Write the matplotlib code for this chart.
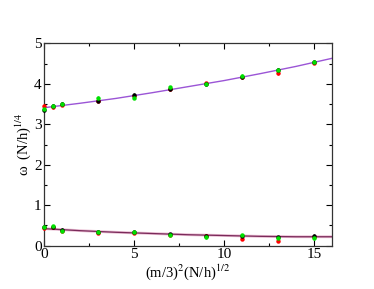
import matplotlib
matplotlib.use("Agg")
import matplotlib.pyplot as plt
from matplotlib.ticker import MultipleLocator

plt.rcParams['font.family'] = ['Liberation Serif', 'DejaVu Serif']
plt.rcParams['mathtext.fontset'] = 'stix'

x = [0, 0.5, 1, 3, 5, 7, 9, 11, 13, 15]

up_black = [3.35, 3.45, 3.51, 3.58, 3.73, 3.88, 3.99, 4.18, 4.35, 4.53]
up_red   = [3.45, 3.42, 3.48, 3.58, 3.69, 3.87, 4.01, 4.16, 4.27, 4.52]
up_green = [3.38, 3.46, 3.50, 3.65, 3.66, 3.91, 4.00, 4.20, 4.35, 4.55]

lo_black = [0.45, 0.46, 0.39, 0.34, 0.33, 0.28, 0.24, 0.23, 0.21, 0.24]
lo_red   = [0.43, 0.47, 0.37, 0.32, 0.32, 0.27, 0.23, 0.17, 0.12, 0.22]
lo_green = [0.47, 0.48, 0.37, 0.34, 0.34, 0.27, 0.21, 0.26, 0.19, 0.18]

err = 0.04

fit_x  = [0, 2, 4, 6, 8, 10, 12, 14, 16]
fit_up = [3.41, 3.52, 3.64, 3.78, 3.93, 4.08, 4.25, 4.43, 4.63]
fit_lo = [0.42, 0.37, 0.33, 0.30, 0.27, 0.25, 0.23, 0.22, 0.22]

fig = plt.figure(figsize=(3.74, 2.89), dpi=100)
ax = fig.add_axes([0.1185, 0.150, 0.769, 0.700])

ax.plot(fit_x, fit_up, color='#9b55d6', lw=1.0, zorder=2)
ax.plot(fit_x, fit_lo, color='#e0a0c0', lw=2.0, zorder=2, alpha=0.7)
ax.plot(fit_x, fit_lo, color='#7a2a5a', lw=0.9, zorder=2)

for ys, c in [(up_red, '#ff0000'), (up_black, '#000000'), (up_green, '#00e000'),
              (lo_red, '#ff0000'), (lo_black, '#000000'), (lo_green, '#00e000')]:
    ax.errorbar(x, ys, yerr=err, fmt='o', color=c, ms=3.2, mew=0, elinewidth=1.0,
                capsize=0, zorder=3, clip_on=False)

ax.set_xlim(0, 16)
ax.set_ylim(0, 5)
ax.xaxis.set_major_locator(MultipleLocator(5))
ax.xaxis.set_minor_locator(MultipleLocator(2.5))
ax.yaxis.set_major_locator(MultipleLocator(1))
ax.yaxis.set_minor_locator(MultipleLocator(0.5))
ax.tick_params(which='both', direction='in', top=True, right=True, labelsize=11, pad=2)
ax.tick_params(which='major', length=4, width=0.8)
ax.tick_params(which='minor', length=2, width=0.8)
for s in ax.spines.values():
    s.set_linewidth(0.9)
    s.set_color('#333333')

ax.set_xlabel('(m/3)$^{2}$(N/h)$^{1/2}$', fontsize=10.5, labelpad=1)
ax.set_ylabel('ω  (N/h)$^{1/4}$', fontsize=10.5, labelpad=1)

fig.savefig('out.png', dpi=100)
